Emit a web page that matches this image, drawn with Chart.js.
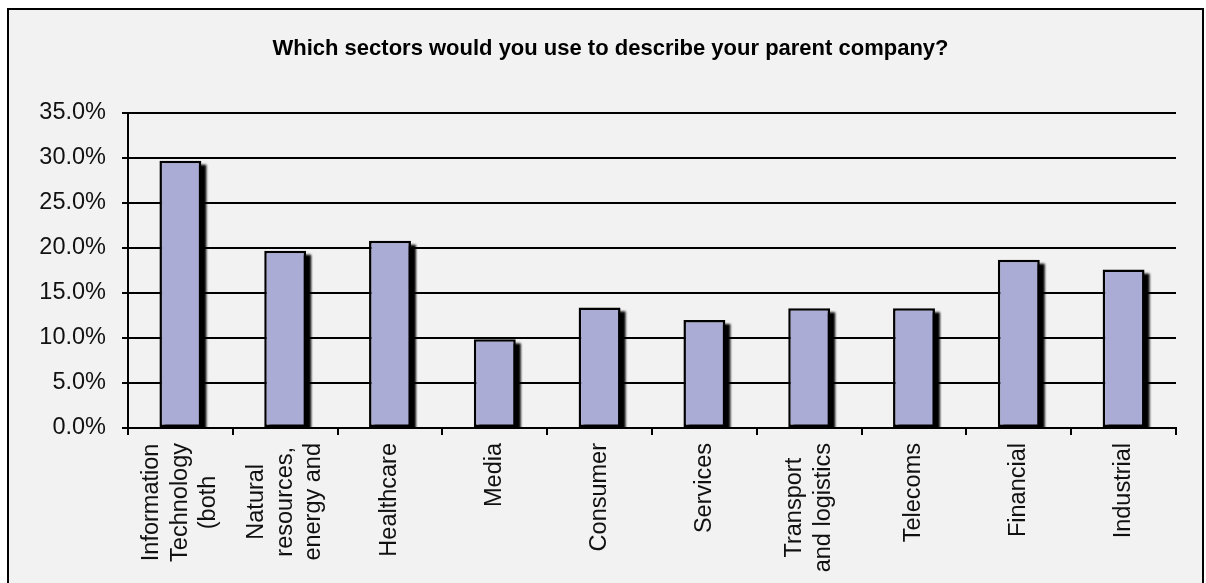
<!DOCTYPE html>
<html>
<head>
<meta charset="utf-8">
<script src="https://cdn.jsdelivr.net/npm/chart.js@4/dist/chart.umd.min.js"></script>
<style>
  html, body { margin: 0; padding: 0; background: #fff; overflow: hidden; }
  #frame {
    position: absolute; left: 7px; top: 8px;
    width: 1193px; height: 600px;
    border: 2px solid #000; background: #f2f2f2;
  }
  canvas { display: block; }
</style>
</head>
<body>
<div id="frame"><canvas id="sectorChart" width="1193" height="573"></canvas></div>
<script>
const TITLE = "Which sectors would you use to describe your parent company?";

// each sector label is split into the lines it is drawn on
const sectors = [
  ["Information", "Technology", "(both"],
  ["Natural", "resources,", "energy and"],
  ["Healthcare"],
  ["Media"],
  ["Consumer"],
  ["Services"],
  ["Transport", "and logistics"],
  ["Telecoms"],
  ["Financial"],
  ["Industrial"]
];
const shares = [29.7, 19.7, 20.8, 9.85, 13.4, 12.0, 13.3, 13.3, 18.7, 17.6];
const yTicks = [0, 5, 10, 15, 20, 25, 30, 35];

const FONT = "'Liberation Sans', Arial, sans-serif";
const BAR = "#abacd6";

// dark drop shadow behind each bar, cut off at the x axis
const barShadow = {
  id: "barShadow",
  beforeDatasetsDraw: function (chart) {
    let ctx = chart.ctx;
    let area = chart.chartArea;
    let bars = chart.getDatasetMeta(0).data;
    ctx.save();
    ctx.beginPath();
    ctx.rect(area.left, 0, chart.width - area.left, area.bottom);
    ctx.clip();
    ctx.fillStyle = "#000";
    ctx.filter = "blur(1px)";
    for (let i = 0; i < bars.length; i++) {
      let p = bars[i].getProps(["x", "y", "base", "width"], true);
      ctx.fillRect(p.x - p.width / 2 + 5, p.y + 4, p.width, p.base - p.y);
    }
    ctx.restore();
  }
};

// title centred over the frame
const frameTitle = {
  id: "frameTitle",
  afterDraw: function (chart) {
    let ctx = chart.ctx;
    ctx.save();
    ctx.font = "bold 22px " + FONT;
    ctx.fillStyle = "#000";
    ctx.textAlign = "center";
    ctx.textBaseline = "middle";
    ctx.fillText(TITLE, chart.width / 2 + 5, 38.5);
    ctx.restore();
  }
};

// rotated category labels, lines centred on each other
const sectorLabels = {
  id: "sectorLabels",
  afterDraw: function (chart) {
    let ctx = chart.ctx;
    let x = chart.scales.x;
    let top = x.top + 15;
    ctx.save();
    ctx.font = "23.5px " + FONT;
    ctx.fillStyle = "#111";
    ctx.textAlign = "center";
    ctx.textBaseline = "middle";
    for (let i = 0; i < sectors.length; i++) {
      let lines = sectors[i];
      let widest = 0;
      for (let j = 0; j < lines.length; j++) {
        widest = Math.max(widest, ctx.measureText(lines[j]).width);
      }
      ctx.save();
      ctx.translate(x.getPixelForValue(i), top + widest / 2);
      ctx.rotate(-Math.PI / 2);
      for (let j = 0; j < lines.length; j++) {
        ctx.fillText(lines[j], 0, (j - (lines.length - 1) / 2) * 28.5);
      }
      ctx.restore();
    }
    ctx.restore();
  }
};

new Chart(document.getElementById("sectorChart"), {
  type: "bar",
  data: {
    labels: sectors,
    datasets: [{
      data: shares,
      backgroundColor: BAR,
      borderColor: "#000",
      borderWidth: 2.5,
      borderSkipped: false,
      categoryPercentage: 1,
      barPercentage: 0.4
    }]
  },
  options: {
    responsive: false,
    animation: false,
    events: [],
    layout: { padding: { left: 0, right: 26, top: 103, bottom: 0 } },
    plugins: {
      legend: { display: false },
      tooltip: { enabled: false },
      title: { display: false }
    },
    scales: {
      x: {
        afterFit: function (scale) { scale.height = 155; },
        ticks: { display: false },
        grid: {
          offset: true,
          drawOnChartArea: false,
          drawTicks: true,
          tickLength: 7,
          color: "#000",
          lineWidth: 2
        },
        border: { color: "#000", width: 2 }
      },
      y: {
        min: 0,
        max: 35,
        afterFit: function (scale) { scale.width = 119; },
        afterBuildTicks: function (scale) {
          scale.ticks = yTicks.map(function (v) { return { value: v }; });
        },
        ticks: {
          padding: 16,
          color: "#111",
          font: { family: FONT, size: 23.5 },
          callback: function (v) { return v.toFixed(1) + "%"; }
        },
        grid: { color: "#000", lineWidth: 2, tickLength: 6 },
        border: { color: "#000", width: 2 }
      }
    }
  },
  plugins: [barShadow, frameTitle, sectorLabels]
});
</script>
</body>
</html>
